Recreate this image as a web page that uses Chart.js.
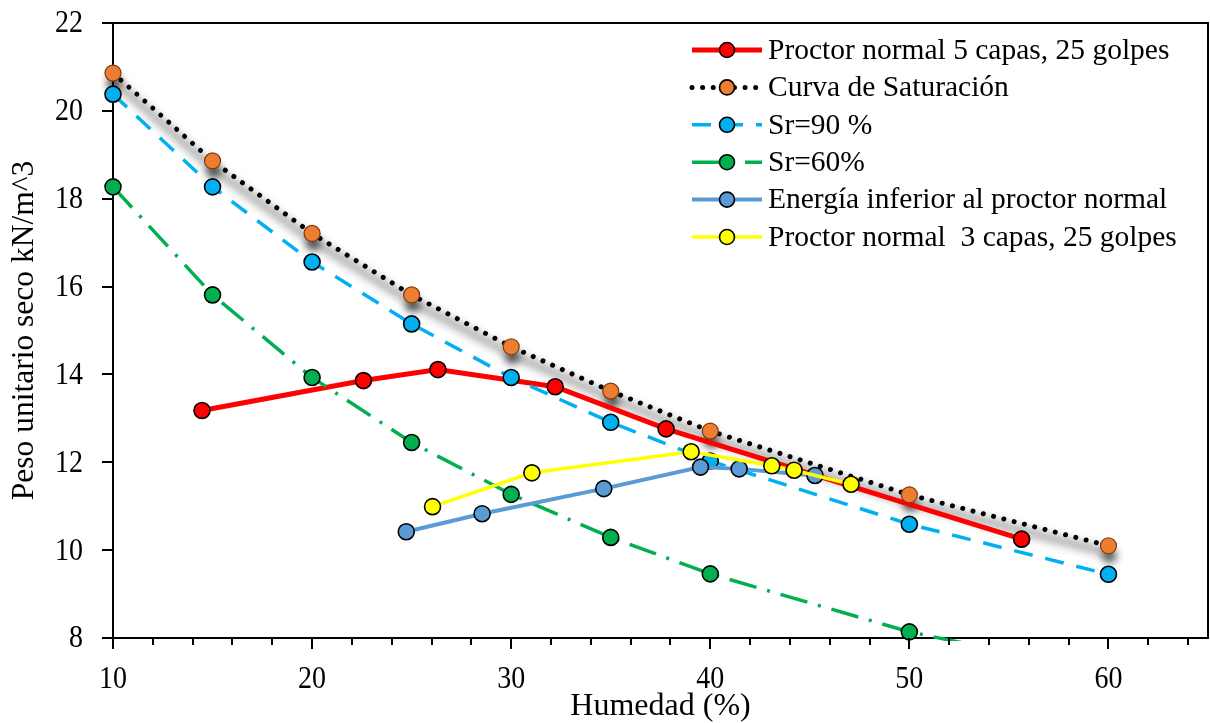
<!DOCTYPE html>
<html>
<head>
<meta charset="utf-8">
<script src="https://cdn.jsdelivr.net/npm/chart.js@4.4.1/dist/chart.umd.min.js"></script>
<style>
  html, body { margin: 0; padding: 0; background: #fff; }
  #wrap { width: 1210px; height: 723px; }
</style>
</head>
<body>
<div id="wrap"><canvas id="c" width="1210" height="723"></canvas></div>
<script>
// ---- Data ----
const seriesNames = [
  'Proctor normal 5 capas, 25 golpes',
  'Curva de Saturación',
  'Sr=90 %',
  'Sr=60%',
  'Energía inferior al proctor normal',
  'Proctor normal  3 capas, 25 golpes'
];
const xProctor5 = [14.47, 22.58, 26.32, 32.21, 37.78, 55.64];
const yProctor5 = [13.18, 13.86, 14.11, 13.72, 12.76, 10.25];
const xSat = [10, 15, 20, 25, 30, 35, 40, 50, 60];
const ySat = [20.86, 18.86, 17.21, 15.81, 14.63, 13.62, 12.71, 11.26, 10.10];
const xSr90 = [10, 15, 20, 25, 30, 35, 40, 50, 60];
const ySr90 = [20.38, 18.27, 16.56, 15.15, 13.93, 12.91, 12.03, 10.59, 9.45];
const xSr60 = [10, 15, 20, 25, 30, 35, 40, 50, 60];
const ySr60 = [18.27, 15.81, 13.93, 12.45, 11.27, 10.29, 9.46, 8.14, 7.20];
const xEnergia = [24.73, 28.54, 34.65, 39.51, 41.45, 45.26];
const yEnergia = [10.42, 10.83, 11.40, 11.89, 11.85, 11.70];
const xProctor3 = [26.05, 31.04, 39.04, 43.09, 44.21, 47.07];
const yProctor3 = [10.99, 11.76, 12.24, 11.92, 11.82, 11.50];

const xMajorTicks = [10, 20, 30, 40, 50, 60];
const xMinorTicks = [12, 14, 16, 18, 22, 24, 26, 28, 32, 34, 36, 38, 42, 44, 46, 48, 52, 54, 56, 58, 62, 64];
const yTicks = [8, 10, 12, 14, 16, 18, 20, 22];
const xAxisTitle = 'Humedad (%)';
const yAxisTitle = 'Peso unitario seco kN/m^3';

const pts = (xs, ys) => xs.map((x, i) => ({ x: x, y: ys[i] }));
const FONT = "'Liberation Serif', 'Times New Roman', serif";

function ds(label, data, color, opts) {
  return Object.assign({
    label: label,
    data: data,
    borderColor: color,
    backgroundColor: color,
    pointBackgroundColor: color,
    pointBorderColor: '#000',
    pointBorderWidth: 1.6,
    pointRadius: 8,
    pointHoverRadius: 8,
    borderWidth: 4,
    tension: 0,
    fill: false,
    clip: { left: 12, top: 12, right: 12, bottom: 3 }
  }, opts || {});
}

const datasets = [
  ds(seriesNames[0], pts(xProctor5, yProctor5), '#FF0000', { borderWidth: 5, order: 6 }),
  ds(seriesNames[1], pts(xSat, ySat), '#000000', { pointBackgroundColor: '#ED7D31', pointBorderColor: '#7a3a10', pointBorderWidth: 1.2, borderWidth: 5, borderDash: [0.01, 10.6], borderCapStyle: 'round', order: 5 }),
  ds(seriesNames[2], pts(xSr90, ySr90), '#00B0F0', { borderWidth: 3.5, borderDash: [19, 13], order: 4 }),
  ds(seriesNames[3], pts(xSr60, ySr60), '#00B050', { borderWidth: 3.5, borderDash: [28, 11, 3, 11], order: 3 }),
  ds(seriesNames[4], pts(xEnergia, yEnergia), '#5B9BD5', { borderWidth: 4, order: 2 }),
  ds(seriesNames[5], pts(xProctor3, yProctor3), '#FFFF00', { borderWidth: 3.5, order: 1 })
];

// Blurred grey shadow under the saturation curve
const shadowPlugin = {
  id: 'satShadow',
  beforeDatasetsDraw(chart) {
    const meta = chart.getDatasetMeta(1);
    const ca = chart.chartArea;
    const ctx = chart.ctx;
    ctx.save();
    ctx.beginPath();
    ctx.rect(ca.left - 12, ca.top, ca.right - ca.left + 12, ca.bottom - ca.top);
    ctx.clip();
    ctx.filter = 'blur(4px)';
    ctx.strokeStyle = 'rgba(0,0,0,0.34)';
    ctx.lineWidth = 8;
    ctx.lineJoin = 'round';
    ctx.beginPath();
    meta.data.forEach((p, i) => {
      if (i === 0) ctx.moveTo(p.x, p.y + 7); else ctx.lineTo(p.x, p.y + 7);
    });
    ctx.stroke();
    ctx.fillStyle = 'rgba(0,0,0,0.7)';
    meta.data.forEach(p => {
      ctx.beginPath();
      ctx.arc(p.x + 1, p.y + 10, 7, 0, Math.PI * 2);
      ctx.fill();
    });
    ctx.restore();
  }
};

// Top / right frame, x tick marks (major and minor) and tick labels
const framePlugin = {
  id: 'frame',
  afterDraw(chart) {
    const ctx = chart.ctx;
    const ca = chart.chartArea;
    const xs = chart.scales.x;
    const ys = chart.scales.y;
    ctx.save();
    ctx.strokeStyle = '#000';
    ctx.lineWidth = 2;
    ctx.beginPath();
    ctx.moveTo(ca.left, ca.top);
    ctx.lineTo(ca.right, ca.top);
    ctx.lineTo(ca.right, ca.bottom);
    ctx.stroke();
    xMajorTicks.concat(xMinorTicks).forEach(v => {
      const px = Math.round(xs.getPixelForValue(v));
      const len = xMajorTicks.includes(v) ? 11 : 7;
      ctx.beginPath();
      ctx.moveTo(px, ca.bottom);
      ctx.lineTo(px, ca.bottom + len);
      ctx.stroke();
    });
    ctx.fillStyle = '#000';
    ctx.font = '28px ' + FONT;
    ctx.textBaseline = 'middle';
    const sy = 1.12;
    yTicks.forEach(v => {
      const py = ys.getPixelForValue(v);
      ctx.save();
      ctx.translate(ca.left - 30, py);
      ctx.scale(1, sy);
      ctx.textAlign = 'right';
      ctx.fillText(String(v), 0, 1);
      ctx.restore();
    });
    xMajorTicks.forEach(v => {
      const px = xs.getPixelForValue(v);
      ctx.save();
      ctx.translate(px, 680);
      ctx.scale(1, sy);
      ctx.textAlign = 'center';
      ctx.fillText(String(v), 0, 0);
      ctx.restore();
    });
    ctx.restore();
  }
};

// Legend: line sample + marker + text, in the upper right
const legendPlugin = {
  id: 'customLegend',
  afterDraw(chart) {
    const ctx = chart.ctx;
    const x0 = 692, x1 = 762, xm = 727, xt = 768;
    const y0 = 50, dy = 37.4;
    ctx.save();
    chart.data.datasets.forEach((d, i) => {
      const y = y0 + i * dy;
      ctx.save();
      ctx.strokeStyle = d.borderColor;
      ctx.lineWidth = d.borderWidth;
      ctx.lineCap = d.borderCapStyle || 'butt';
      ctx.setLineDash(d.borderDash || []);
      ctx.beginPath();
      ctx.moveTo(x0, y);
      ctx.lineTo(x1, y);
      ctx.stroke();
      ctx.restore();
      ctx.beginPath();
      ctx.arc(xm, y, 7.5, 0, Math.PI * 2);
      ctx.fillStyle = d.pointBackgroundColor;
      ctx.fill();
      ctx.lineWidth = 1.6;
      ctx.strokeStyle = '#000';
      ctx.stroke();
      ctx.fillStyle = '#000';
      ctx.font = '29.5px ' + FONT;
      ctx.textBaseline = 'middle';
      ctx.textAlign = 'left';
      ctx.fillText(d.label, xt, y + 1);
    });
    ctx.restore();
  }
};

new Chart(document.getElementById('c'), {
  type: 'line',
  data: { datasets: datasets },
  options: {
    responsive: false,
    animation: false,
    events: [],
    layout: { autoPadding: false, padding: { left: 0, right: 2, top: 23, bottom: 0 } },
    plugins: { legend: { display: false }, tooltip: { enabled: false } },
    scales: {
      x: {
        type: 'linear',
        min: 10, max: 65,
        afterBuildTicks: s => { s.ticks = xMajorTicks.concat(xMinorTicks).sort((a, b) => a - b).map(v => ({ value: v })); },
        afterFit: s => { s.height = 85; s.paddingLeft = 0; s.paddingRight = 0; },
        grid: { display: false },
        border: { display: true, color: '#000', width: 2 },
        ticks: { display: false },
        title: { display: true, text: xAxisTitle, color: '#000', font: { family: FONT, size: 32, lineHeight: 1.0 }, padding: { top: 0, bottom: 0 } }
      },
      y: {
        type: 'linear',
        min: 8, max: 22,
        afterBuildTicks: s => { s.ticks = yTicks.map(v => ({ value: v })); },
        afterFit: s => { s.width = 113; s.paddingTop = 0; s.paddingBottom = 0; },
        grid: { display: true, drawOnChartArea: false, drawTicks: true, tickLength: 11, color: '#000', lineWidth: 2 },
        border: { display: true, color: '#000', width: 2 },
        ticks: { display: false },
        title: { display: true, text: yAxisTitle, color: '#000', font: { family: FONT, size: 31.5, lineHeight: 1.0 }, padding: { top: 9, bottom: 0 } }
      }
    }
  },
  plugins: [shadowPlugin, framePlugin, legendPlugin]
});
</script>
</body>
</html>
